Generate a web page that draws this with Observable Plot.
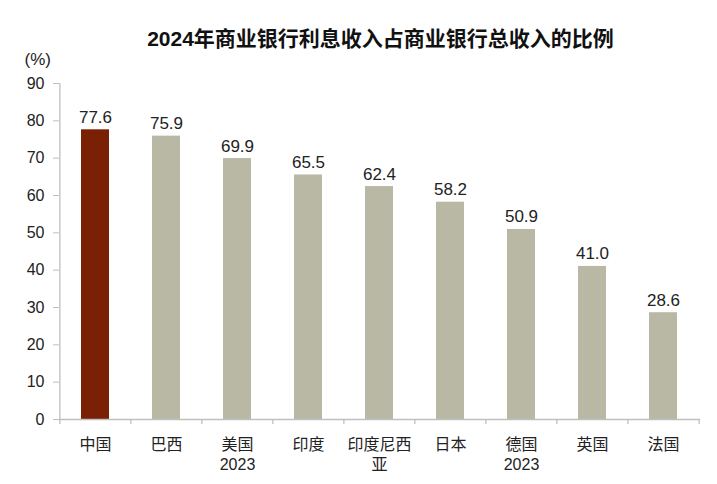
<!DOCTYPE html>
<html>
<head>
<meta charset="utf-8">
<script src="https://cdn.jsdelivr.net/npm/d3@7"></script>
<script src="https://cdn.jsdelivr.net/npm/@observablehq/plot@0.6"></script>
<style>
  html, body { margin: 0; padding: 0; background: #fff; }
  #title { height: 50px; box-sizing: border-box; padding-top: 27px; padding-left: 44px; text-align: center;
    font: bold 21px "Liberation Sans", "Noto Sans CJK SC", sans-serif; color: #111; line-height: 24px; }
  #chart svg { display: block; }
  #chart g[aria-label="y-axis tick label"] { font-size: 16px !important; }
  #chart g[aria-label="x-axis tick label"] { font-size: 16px !important; }
</style>
</head>
<body>
<div id="title">2024年商业银行利息收入占商业银行总收入的比例</div>
<div id="chart"></div>
<script>
const countries = ["中国", "巴西", "美国\n2023", "印度", "印度尼西\n亚", "日本", "德国\n2023", "英国", "法国"];
const shares = [77.6, 75.9, 69.9, 65.5, 62.4, 58.2, 50.9, 41.0, 28.6];
const highlight = ["中国"];
const yTicks = [0, 10, 20, 30, 40, 50, 60, 70, 80, 90];

const data = countries.map((c, i) => ({country: c, value: shares[i]}));
const W = 717, H = 434, mL = 59, mR = 17;
const step = (W - mL - mR) / countries.length;
const axisColor = "#BFBFBF";
const font = '"Liberation Sans", "Noto Sans CJK SC", sans-serif';

const chart = Plot.plot({
  width: W,
  height: H,
  marginLeft: mL,
  marginRight: mR,
  marginTop: 33,
  marginBottom: 65,
  style: {fontFamily: font, fontSize: "16px", color: "#222", background: "#fff"},
  x: {domain: countries, paddingInner: 0.6, paddingOuter: 0.3, label: null},
  y: {domain: [0, 90], label: null},
  marks: [
    Plot.barY(data, {x: "country", y: "value", fill: d => highlight.includes(d.country) ? "#7A2105" : "#B9B8A5"}),
    Plot.text(data, {x: "country", y: "value", text: d => d.value.toFixed(1), lineAnchor: "bottom", dy: -7, fontSize: 17, fill: "#222"}),
    Plot.axisY(yTicks, {tickSize: 6, tickPadding: 9, stroke: axisColor, fill: "#222", fontSize: 16, label: null}),
    Plot.ruleX(countries.slice(0, 1), {x: d => d, y1: 0, y2: 90, dx: -step / 2, stroke: axisColor, strokeWidth: 1.3}),
    Plot.ruleY([0], {stroke: axisColor, strokeWidth: 1.3}),
    Plot.ruleX(countries, {x: d => d, y1: 0, y2: 0, insetBottom: -5, dx: -step / 2, stroke: axisColor, strokeWidth: 1.3}),
    Plot.ruleX(countries.slice(-1), {x: d => d, y1: 0, y2: 0, insetBottom: -5, dx: step / 2, stroke: axisColor, strokeWidth: 1.3}),
    Plot.axisX({tickSize: 0, tickPadding: 16, lineAnchor: "top", lineHeight: 1.25, fontSize: 16, fill: "#222", label: null}),
    Plot.text(["(%)"], {frameAnchor: "top-left", dx: -35, dy: -31, textAnchor: "start", fontSize: 17, fill: "#222"})
  ]
});
document.getElementById("chart").appendChild(chart);
</script>
</body>
</html>
